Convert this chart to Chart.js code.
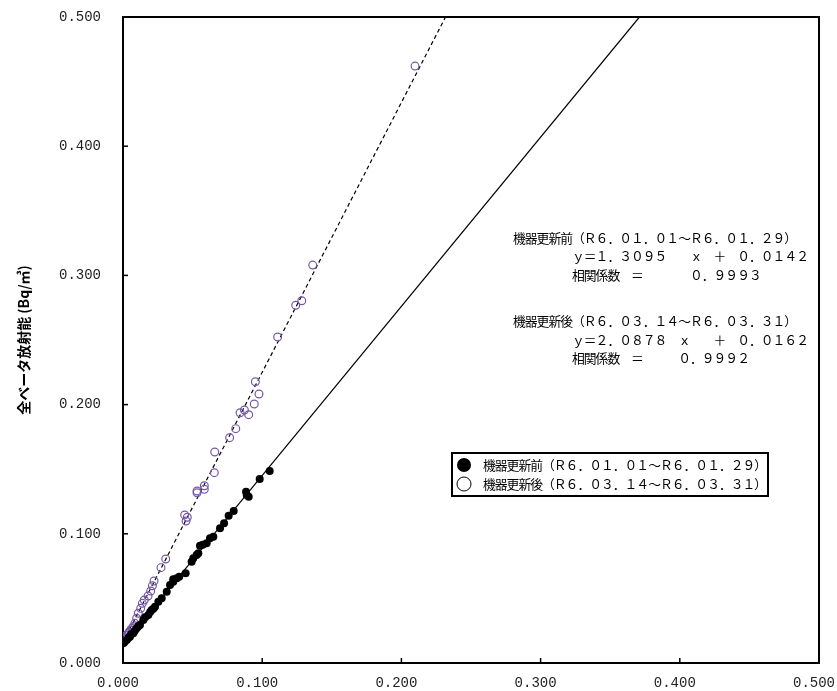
<!DOCTYPE html>
<html lang="ja">
<head>
<meta charset="utf-8">
<script src="https://cdn.jsdelivr.net/npm/chart.js@4"></script>
<style>
  html, body { margin: 0; padding: 0; background: #fff; }
  #wrap { position: relative; width: 837px; height: 691px; }
</style>
</head>
<body>
<div id="wrap"><canvas id="chart" width="837" height="691"></canvas></div>
<script>
// axis ticks
const tickValues = [0, 0.1, 0.2, 0.3, 0.4, 0.5];
const tickLabels = ['0.000', '0.100', '0.200', '0.300', '0.400', '0.500'];

// series labels
const labelBefore = '機器更新前（Ｒ６．０１．０１～Ｒ６．０１．２９）';
const labelAfter = '機器更新後（Ｒ６．０３．１４～Ｒ６．０３．３１）';

// before renewal (filled black)
const beforeX = [0.0002, 0.0010, 0.0027, 0.0040, 0.0050, 0.0060, 0.0074, 0.0085, 0.0098, 0.0110,
  0.0122, 0.0146, 0.0160, 0.0182, 0.0195, 0.0206, 0.0218, 0.0230, 0.0254, 0.0278,
  0.0314, 0.0338, 0.0361, 0.0361, 0.0386, 0.0404, 0.0450, 0.0493, 0.0505, 0.0529,
  0.0541, 0.0553, 0.0573, 0.0601, 0.0625, 0.0649, 0.0697, 0.0726, 0.0759, 0.0795,
  0.0884, 0.0889, 0.0903, 0.0982, 0.1054];
const beforeY = [0.0152, 0.0160, 0.0178, 0.0195, 0.0204, 0.0225, 0.0230, 0.0250, 0.0269, 0.0285,
  0.0294, 0.0333, 0.0355, 0.0372, 0.0395, 0.0410, 0.0420, 0.0436, 0.0474, 0.0501,
  0.0552, 0.0604, 0.0629, 0.0648, 0.0656, 0.0668, 0.0694, 0.0784, 0.0810, 0.0836,
  0.0849, 0.0908, 0.0916, 0.0926, 0.0965, 0.0978, 0.1043, 0.1081, 0.1140, 0.1176,
  0.1326, 0.1300, 0.1287, 0.1424, 0.1486];

// after renewal (open purple)
const afterX = [0.0002, 0.0008, 0.0014, 0.0025, 0.0038, 0.0045, 0.0055, 0.0065, 0.0074, 0.0086,
  0.0098, 0.0110, 0.0127, 0.0139, 0.0153, 0.0180, 0.0199, 0.0211, 0.0223, 0.0273,
  0.0307, 0.0443, 0.0453, 0.0462, 0.0532, 0.0532, 0.0584, 0.0584, 0.0656, 0.0659,
  0.0766, 0.0810, 0.0841, 0.0872, 0.0903, 0.0943, 0.0977, 0.0951, 0.1111, 0.1241,
  0.1284, 0.1363, 0.2098];
const afterY = [0.0183, 0.0190, 0.0204, 0.0215, 0.0230, 0.0240, 0.0255, 0.0268, 0.0281, 0.0307,
  0.0346, 0.0385, 0.0423, 0.0462, 0.0488, 0.0519, 0.0557, 0.0598, 0.0635, 0.0738,
  0.0805, 0.1146, 0.1099, 0.1128, 0.1318, 0.1331, 0.1344, 0.1372, 0.1473, 0.1633,
  0.1744, 0.1814, 0.1937, 0.1958, 0.1922, 0.2005, 0.2082, 0.2177, 0.2523, 0.2769,
  0.2804, 0.3080, 0.4620];

// regression line end points (y = 1.3095x + 0.0142, y = 2.0878x + 0.0162)
const fitBeforeX = [0, 0.3710];
const fitBeforeY = [0.0142, 0.5];
const fitAfterX = [0, 0.2317];
const fitAfterY = [0.0162, 0.5];

// text block on the right
const noteLines = [
  '機器更新前（Ｒ６．０１．０１～Ｒ６．０１．２９）',
  '　　　　　ｙ＝１．３０９５　　ｘ　＋　０．０１４２',
  '　　　　　相関係数　＝　　　　０．９９９３',
  '機器更新後（Ｒ６．０３．１４～Ｒ６．０３．３１）',
  '　　　　　ｙ＝２．０８７８　ｘ　　＋　０．０１６２',
  '　　　　　相関係数　＝　　　０．９９９２'
];

const purple = 'rgb(118, 88, 168)';
const toPoints = (xs, ys) => xs.map((x, i) => ({ x: x, y: ys[i] }));

const overlay = {
  id: 'overlay',
  beforeDatasetsDraw(chart) {
    const { ctx, chartArea: a, scales } = chart;
    ctx.save();
    ctx.strokeStyle = '#000';
    ctx.lineWidth = 2;
    ctx.strokeRect(a.left, a.top, a.right - a.left, a.bottom - a.top);
    // inward tick marks
    ctx.lineWidth = 1.5;
    scales.x.ticks.forEach(t => {
      const px = scales.x.getPixelForValue(t.value);
      ctx.beginPath(); ctx.moveTo(px, a.bottom); ctx.lineTo(px, a.bottom - 5); ctx.stroke();
    });
    scales.y.ticks.forEach(t => {
      const py = scales.y.getPixelForValue(t.value);
      ctx.beginPath(); ctx.moveTo(a.left, py); ctx.lineTo(a.left + 5, py); ctx.stroke();
    });
    ctx.restore();
  },
  afterDraw(chart) {
    const ctx = chart.ctx;
    ctx.save();
    ctx.fillStyle = '#000';
    ctx.textBaseline = 'middle';
    // slightly larger glyphs, tightened so each cell stays ~11.8px wide
    ctx.font = '12.8px "Noto Sans CJK JP"';
    if ('letterSpacing' in ctx) ctx.letterSpacing = '-1px';
    const noteY = [238, 256, 275, 321, 340, 358];
    noteLines.forEach((s, i) => ctx.fillText(s, 513, noteY[i]));

    // legend box
    ctx.strokeStyle = '#000';
    ctx.lineWidth = 2;
    ctx.strokeRect(452, 453, 316, 43);
    ctx.beginPath(); ctx.arc(464, 465, 7, 0, Math.PI * 2); ctx.fill();
    ctx.lineWidth = 1;
    ctx.beginPath(); ctx.arc(464, 484, 7, 0, Math.PI * 2); ctx.stroke();
    ctx.fillText(chart.data.datasets[0].label, 483, 465);
    ctx.fillText(chart.data.datasets[1].label, 483, 484);
    ctx.restore();
  }
};

const tickFont = { family: '"Liberation Mono", monospace', size: 14 };

new Chart(document.getElementById('chart'), {
  type: 'scatter',
  data: {
    datasets: [
      {
        label: labelBefore,
        data: toPoints(beforeX, beforeY),
        pointRadius: 4,
        pointBackgroundColor: '#000',
        pointBorderColor: '#000',
        pointBorderWidth: 0
      },
      {
        label: labelAfter,
        data: toPoints(afterX, afterY),
        pointRadius: 3.9,
        pointBackgroundColor: 'rgba(255,255,255,0)',
        pointBorderColor: purple,
        pointBorderWidth: 1.2
      },
      {
        label: 'fitBefore',
        data: toPoints(fitBeforeX, fitBeforeY),
        showLine: true,
        borderColor: '#000',
        borderWidth: 1.2,
        pointRadius: 0
      },
      {
        label: 'fitAfter',
        data: toPoints(fitAfterX, fitAfterY),
        showLine: true,
        borderColor: '#000',
        borderWidth: 1.2,
        borderDash: [4, 3],
        pointRadius: 0
      }
    ]
  },
  options: {
    responsive: false,
    animation: false,
    layout: { padding: { top: 17, right: 18, left: 0, bottom: 0 } },
    plugins: {
      legend: { display: false },
      tooltip: { enabled: false }
    },
    scales: {
      x: {
        type: 'linear',
        min: 0,
        max: 0.5,
        afterBuildTicks: s => { s.ticks = tickValues.map(v => ({ value: v })); },
        afterFit: s => {
          s.height = 28;
          s.paddingLeft = 0; s.paddingRight = 0;
        },
        grid: { display: false, drawTicks: false },
        border: { display: false },
        ticks: {
          font: tickFont,
          color: '#222',
          padding: 12,
          labelOffset: -5,
          maxRotation: 0,
          autoSkip: false,
          callback: (v, i) => tickLabels[i]
        }
      },
      y: {
        type: 'linear',
        min: 0,
        max: 0.5,
        afterBuildTicks: s => { s.ticks = tickValues.map(v => ({ value: v })); },
        afterFit: s => {
          s.width = 123;
          s.paddingTop = 0; s.paddingBottom = 0;
        },
        grid: { display: false, drawTicks: false },
        border: { display: false },
        title: {
          display: true,
          text: '全ベータ放射能 (Bq/㎥)',
          color: '#000',
          font: { family: '"Noto Sans CJK JP"', size: 14, weight: 'bold' },
          padding: { top: 15, bottom: 0 }
        },
        ticks: {
          font: tickFont,
          color: '#222',
          padding: 22,
          autoSkip: false,
          callback: (v, i) => tickLabels[i]
        }
      }
    }
  },
  plugins: [overlay]
});
</script>
</body>
</html>
